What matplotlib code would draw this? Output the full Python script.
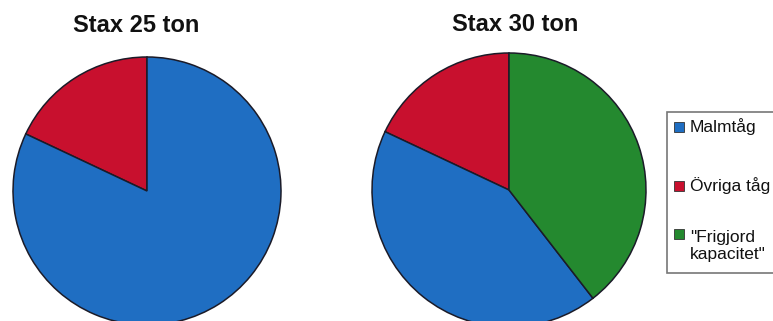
import matplotlib.pyplot as plt
from matplotlib.patches import Rectangle

plt.rcParams["font.family"] = ["Liberation Sans", "DejaVu Sans"]

# shares of track capacity per axle load
labels = ["Malmtåg", "Övriga tåg", "\"Frigjord\nkapacitet\""]
colors = ["#1f6ec2", "#c8102e", "#24892f"]
stax25 = [82, 18]            # Malmtåg, Övriga tåg
stax30 = [42.5, 18, 39.5]    # Malmtåg, Övriga tåg, Frigjord kapacitet
titles = ["Stax 25 ton", "Stax 30 ton"]

W, H = 773, 321
fig = plt.figure(figsize=(W / 100, H / 100), dpi=100)
ax = fig.add_axes([0, 0, 1, 1])

wedge_style = dict(edgecolor="#1b1b28", linewidth=1.1)

# Övriga tåg sits right after 12 o'clock going counter-clockwise
ax.pie([stax25[1], stax25[0]], colors=[colors[1], colors[0]],
       startangle=90, counterclock=True, center=(147, 130), radius=134,
       wedgeprops=wedge_style, frame=True)
ax.pie([stax30[1], stax30[0], stax30[2]], colors=[colors[1], colors[0], colors[2]],
       startangle=90, counterclock=True, center=(509, 131), radius=137,
       wedgeprops=wedge_style, frame=True)
ax.set_xlim(0, W)
ax.set_ylim(0, H)
ax.set_aspect("equal")
ax.axis("off")

ax.text(136, H - 32, titles[0], ha="center", va="baseline",
        fontsize=17, fontweight="bold", color="#111111")
ax.text(515, H - 31, titles[1], ha="center", va="baseline",
        fontsize=17, fontweight="bold", color="#111111")

# legend box, drawn by hand so it can run off the right edge
ax.add_patch(Rectangle((667, H - 273), 120, 161, facecolor="white",
                       edgecolor="#777777", linewidth=1.2, clip_on=False))
first_lines = [132, 191, 239]
for lab, col, yb in zip(labels, colors, first_lines):
    ax.add_patch(Rectangle((674, H - yb), 10, 10, facecolor=col,
                           edgecolor="#333333", linewidth=0.6))
    n_extra = lab.count("\n")
    ax.text(690, H - yb - 19.5 * n_extra, lab, ha="left", va="baseline",
            fontsize=12.5, color="#111111", linespacing=1.1)

fig.savefig("out.png", dpi=100)
